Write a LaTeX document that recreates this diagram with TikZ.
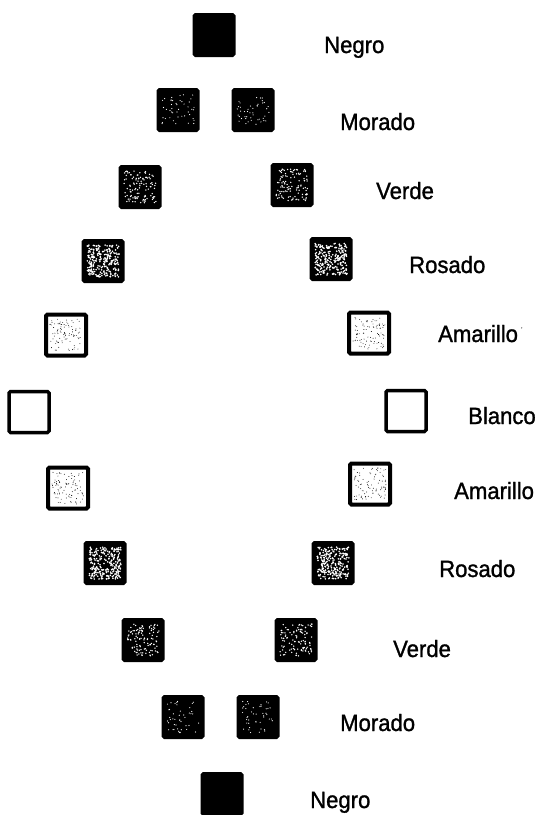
\documentclass[tikz,border=0pt]{standalone}
\usepackage{fontspec}
\setmainfont{Liberation Sans}
\newfontfamily\lblfont[FakeBold=1.2,FakeStretch=0.94]{Liberation Sans}
\begin{document}
\begin{tikzpicture}[x=1pt,y=-1pt,
  sq/.style={draw=black,line width=3pt,minimum width=40pt,minimum height=41pt,inner sep=0pt,rounded corners=1.5pt},
  dots/.style n args={3}{path picture={\foreach \i in {1,...,#1}{\pgfmathsetmacro\dx{rand*16}\pgfmathsetmacro\dy{rand*16}\fill[#2]([xshift=\dx pt,yshift=\dy pt]path picture bounding box.center) circle (#3);}}},
  negro/.style={sq,fill=black},
  morado/.style={sq,fill=black,dots={45}{white}{0.6pt}},
  verde/.style={sq,fill=black,dots={110}{white}{0.75pt}},
  rosado/.style={sq,fill=black,dots={240}{white}{0.9pt}},
  amarillo/.style={sq,line width=4pt,fill=white,dots={90}{black}{0.45pt}},
  blanco/.style={sq,line width=3.5pt,fill=white},
  lbl/.style={anchor=base west,inner sep=0pt,font=\lblfont\fontsize{23.5}{28}\selectfont}]
\pgfmathsetseed{12345}
\useasboundingbox (0,0) rectangle (537,815);
% squares
\node[negro] (n1) at (214,35) {};
\node[morado] (m1l) at (178,110) {};
\node[morado] (m1r) at (253,110) {};
\node[verde] (v1l) at (140,187) {};
\node[verde] (v1r) at (292,185) {};
\node[rosado] (r1l) at (103,261) {};
\node[rosado] (r1r) at (331,259) {};
\node[amarillo] (a1l) at (66,335) {};
\node[amarillo] (a1r) at (369,333) {};
\node[blanco] (b1l) at (29,412) {};
\node[blanco] (b1r) at (406,411) {};
\node[amarillo] (a2l) at (68,488) {};
\node[amarillo] (a2r) at (370,484) {};
\node[rosado] (r2l) at (105,563) {};
\node[rosado] (r2r) at (333,563) {};
\node[verde] (v2l) at (143,640) {};
\node[verde] (v2r) at (296,640) {};
\node[morado] (m2l) at (183,717) {};
\node[morado] (m2r) at (258,717) {};
\node[negro] (n2) at (222,794) {};
% labels
\node[lbl] (tn1) at (324,53) {Negro};
\node[lbl] (tm1) at (340,130) {Morado};
\node[lbl] (tv1) at (376,199) {Verde};
\node[lbl] (tr1) at (409,273) {Rosado};
\node[lbl] (ta1) at (438,342) {Amarillo};
\node[inner sep=0pt,font=\fontsize{7}{7}\selectfont] (tick) at (522,330) {'};
\node[lbl] (tb) at (468,424) {Blanco};
\node[lbl] (ta2) at (454,499) {Amarillo};
\node[lbl] (tr2) at (439,577) {Rosado};
\node[lbl] (tv2) at (393,657) {Verde};
\node[lbl] (tm2) at (340,731) {Morado};
\node[lbl] (tn2) at (310,808) {Negro};
\end{tikzpicture}
\end{document}
